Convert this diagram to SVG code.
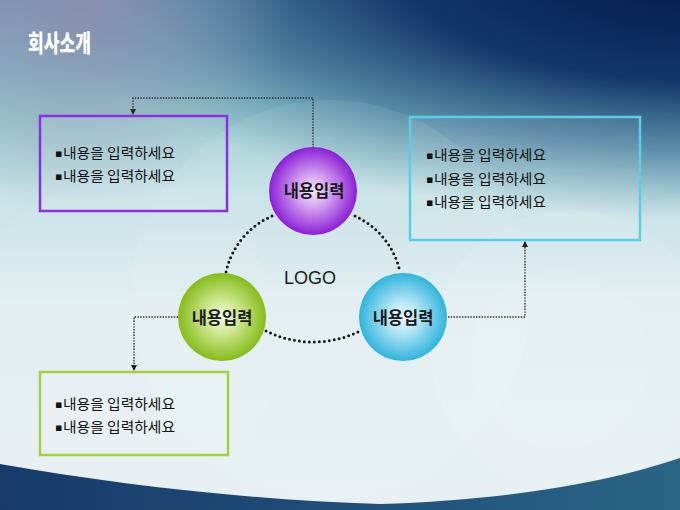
<svg xmlns="http://www.w3.org/2000/svg" width="680" height="510" viewBox="0 0 680 510">
<defs>
<linearGradient id="bgV" x1="0" y1="0" x2="0" y2="1">
<stop offset="0" stop-color="#6f94b2"/>
<stop offset="0.2" stop-color="#96c8ce"/>
<stop offset="0.38" stop-color="#c6e2e6"/>
<stop offset="0.6" stop-color="#e2eef2"/>
<stop offset="1" stop-color="#e8f0f4"/>
</linearGradient>
<radialGradient id="navy" cx="0" cy="0" r="1" gradientUnits="userSpaceOnUse" gradientTransform="translate(720,-30) scale(700,250)">
<stop offset="0" stop-color="#021648" stop-opacity="1"/>
<stop offset="0.45" stop-color="#0c3064" stop-opacity="0.95"/>
<stop offset="0.72" stop-color="#245c86" stop-opacity="0.6"/>
<stop offset="1" stop-color="#3a7a98" stop-opacity="0"/>
</radialGradient>
<radialGradient id="lav" cx="80" cy="0" r="210" gradientUnits="userSpaceOnUse">
<stop offset="0" stop-color="#8a8eae" stop-opacity="0.95"/>
<stop offset="0.6" stop-color="#8c9cb8" stop-opacity="0.4"/>
<stop offset="1" stop-color="#90a8bc" stop-opacity="0"/>
</radialGradient>
<linearGradient id="band" x1="0" y1="0" x2="1" y2="0">
<stop offset="0" stop-color="#173a6a"/>
<stop offset="0.5" stop-color="#1f4e78"/>
<stop offset="1" stop-color="#2b6585"/>
</linearGradient>
<radialGradient id="gP" cx="0.5" cy="0.5" r="0.5">
<stop offset="0" stop-color="#f4e8fc"/>
<stop offset="0.35" stop-color="#d7a8f2"/>
<stop offset="1" stop-color="#8b1fd6"/>
</radialGradient>
<radialGradient id="gG" cx="0.5" cy="0.5" r="0.5">
<stop offset="0" stop-color="#f6fbe6"/>
<stop offset="0.35" stop-color="#d2ea98"/>
<stop offset="1" stop-color="#86bc1a"/>
</radialGradient>
<radialGradient id="gC" cx="0.5" cy="0.5" r="0.5">
<stop offset="0" stop-color="#f0fafe"/>
<stop offset="0.35" stop-color="#b6e6f6"/>
<stop offset="1" stop-color="#30b4dc"/>
</radialGradient>
<marker id="arr" viewBox="0 0 6 6" refX="5" refY="3" markerWidth="6" markerHeight="6" markerUnits="userSpaceOnUse" orient="auto">
<path d="M0,0 L6,3 L0,6 Z" fill="#222"/>
</marker>
<style>
.title{font-family:"Noto Sans CJK KR","Noto Sans",sans-serif;font-weight:900;font-size:24px;fill:#fff}
.item{font-family:"Noto Sans CJK KR","Noto Sans",sans-serif;font-size:14px;fill:#111}
.bul{font-family:"DejaVu Sans",sans-serif;font-size:11px;fill:#111}
.ctext{font-family:"Noto Sans CJK KR","Noto Sans",sans-serif;font-weight:bold;font-size:16.5px;fill:#1a1a1a}
.logo{font-family:"Liberation Sans","Noto Sans",sans-serif;font-size:18px;fill:#1a1a1a}
.box{fill:#ffffff;fill-opacity:0.08;stroke-width:2.5}
.conn{fill:none;stroke:#2a2a2a;stroke-width:1.4;stroke-dasharray:1.4 1.4}
.ring{fill:none;stroke:#1a1a1a;stroke-width:3;stroke-linecap:round;stroke-dasharray:0 5}
</style>
</defs>
<!-- background -->
<rect width="680" height="510" fill="url(#bgV)"/>
<rect width="680" height="510" fill="url(#navy)"/>
<rect width="680" height="510" fill="url(#lav)"/>
<g fill="#ffffff">
<circle cx="330" cy="300" r="200" fill-opacity="0.07"/>
<circle cx="570" cy="350" r="140" fill-opacity="0.08"/>
<circle cx="120" cy="340" r="160" fill-opacity="0.06"/>
<circle cx="560" cy="360" r="90" fill-opacity="0.07"/>
</g>
<path d="M0,464 C120,485 250,500 380,504 C500,500 600,485 680,458 L680,510 L0,510 Z" fill="url(#band)"/>
<text class="title" x="28" y="52" textLength="63" lengthAdjust="spacingAndGlyphs">회사소개</text>

<g id="connectors">
<path class="ring" d="M272,216 A80,80 0 0 0 226,272"/>
<path class="ring" d="M355,216 A80,80 0 0 1 400,272"/>
<path class="ring" d="M266,331 A106,106 0 0 0 360,331"/>
<path class="conn" d="M313,148 V98 H133 V114" marker-end="url(#arr)"/>
<path class="conn" d="M178,317 H134 V370" marker-end="url(#arr)"/>
<path class="conn" d="M448,317 H525 V242" marker-end="url(#arr)"/>
</g>

<g id="box-purple">
<rect class="box" x="40" y="116" width="187" height="95" stroke="#8d2ee0"/>
<text class="bul" x="55" y="157">▪</text>
<text class="item" x="63" y="158" textLength="112" lengthAdjust="spacingAndGlyphs">내용을 입력하세요</text>
<text class="bul" x="55" y="180">▪</text>
<text class="item" x="63" y="181" textLength="112" lengthAdjust="spacingAndGlyphs">내용을 입력하세요</text>
</g>
<g id="box-cyan">
<rect class="box" x="410" y="117" width="230" height="123" stroke="#5ccde6"/>
<text class="bul" x="426" y="159">▪</text>
<text class="item" x="434" y="160" textLength="112" lengthAdjust="spacingAndGlyphs">내용을 입력하세요</text>
<text class="bul" x="426" y="183">▪</text>
<text class="item" x="434" y="184" textLength="112" lengthAdjust="spacingAndGlyphs">내용을 입력하세요</text>
<text class="bul" x="426" y="206">▪</text>
<text class="item" x="434" y="207" textLength="112" lengthAdjust="spacingAndGlyphs">내용을 입력하세요</text>
</g>
<g id="box-green">
<rect class="box" x="40" y="372" width="188" height="83" stroke="#a6d040"/>
<text class="bul" x="55" y="408">▪</text>
<text class="item" x="63" y="409" textLength="112" lengthAdjust="spacingAndGlyphs">내용을 입력하세요</text>
<text class="bul" x="55" y="431">▪</text>
<text class="item" x="63" y="432" textLength="112" lengthAdjust="spacingAndGlyphs">내용을 입력하세요</text>
</g>

<g id="node-top">
<circle cx="313" cy="191" r="44" fill="url(#gP)"/>
<text class="ctext" x="314" y="197" text-anchor="middle">내용입력</text>
</g>
<g id="node-left">
<circle cx="222" cy="317" r="44" fill="url(#gG)"/>
<text class="ctext" x="222" y="324" text-anchor="middle">내용입력</text>
</g>
<g id="node-right">
<circle cx="403" cy="317" r="44" fill="url(#gC)"/>
<text class="ctext" x="403" y="324" text-anchor="middle">내용입력</text>
</g>
<g id="logo">
<text class="logo" x="310" y="284" text-anchor="middle">LOGO</text>
</g>
</svg>
